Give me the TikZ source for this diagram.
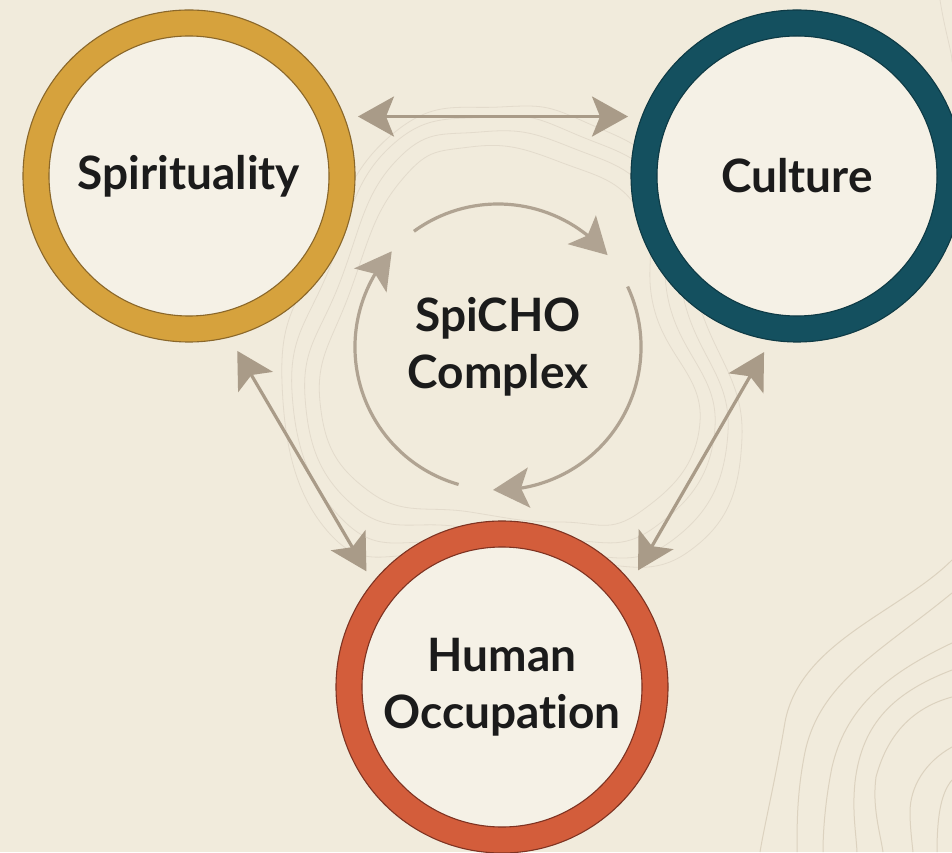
\documentclass[tikz,border=0pt]{standalone}
\usepackage{fontspec}
\setmainfont{Lato}[Ligatures={NoCommon}]
\usetikzlibrary{arrows.meta,bending,calc}
\definecolor{bg}{HTML}{F1EBDC}
\definecolor{innerc}{HTML}{F5F1E6}
\definecolor{gold}{HTML}{D6A23D}
\definecolor{golddk}{HTML}{8A672A}
\definecolor{tealc}{HTML}{14505F}
\definecolor{tealdk}{HTML}{0E3A45}
\definecolor{rust}{HTML}{D35D3B}
\definecolor{rustdk}{HTML}{7E3322}
\definecolor{taupe}{HTML}{A99B88}
\definecolor{contour}{HTML}{DCD2BF}
\definecolor{txt}{HTML}{1B1B1B}
\tikzset{
  ring/.style={circle, minimum size=306pt, inner sep=0pt, line width=26pt, fill=innerc,
     font=\bfseries\fontsize{46}{57}\selectfont, text=txt, align=center},
  ringline/.style={line width=1.1pt},
  bigtip/.tip={Stealth[length=36pt,width=40pt,inset=8pt]},
  link/.style={draw=taupe, line width=3.2pt, bigtip-bigtip},
  cyc/.style={draw=taupe!92, line width=3.2pt, -bigtip},
  topo/.style={draw=contour, line width=1pt},
  topofaint/.style={draw=contour!80, line width=0.8pt}
}
\begin{document}
\begin{tikzpicture}[x=1pt,y=1pt]
\fill[bg] (0,0) rectangle (952,852);
\useasboundingbox (0,0) rectangle (952,852);

% background contour lines (bottom right)
\draw[topo] (952,292) .. controls (900,240) and (800,210) .. (785,130) .. controls (775,70) and (765,30) .. (760,0);
\draw[topo] (952,259) .. controls (880,200) and (820,170) .. (805,100) .. controls (797,60) and (797,30) .. (797,0);
\draw[topo] (952,209) .. controls (880,175) and (845,140) .. (832,85) .. controls (825,50) and (823,20) .. (823,0);
\draw[topo] (952,182) .. controls (895,160) and (862,130) .. (855,70) .. controls (852,40) and (856,20) .. (857,0);
\draw[topo] (952,155) .. controls (915,145) and (888,120) .. (876,75) .. controls (872,45) and (880,20) .. (883,0);
\draw[topo] (952,105) .. controls (925,90) and (910,65) .. (910,40) .. controls (910,25) and (912,10) .. (913,0);
\draw[topo] (952,72) .. controls (942,60) and (937,40) .. (937,0);
\draw[topofaint] (940,852) .. controls (945,820) and (952,800) .. (952,790);

% faint contours around the centre
\draw[topofaint] plot[smooth cycle, tension=0.8] coordinates {(350,560) (400,670) (470,705) (560,690) (640,640) (655,540) (700,430) (640,340) (560,330) (470,340) (370,360) (320,450)};
\draw[topofaint] plot[smooth cycle, tension=0.8] coordinates {(340,570) (395,690) (480,720) (570,705) (655,650) (670,545) (715,425) (655,325) (560,312) (460,325) (355,345) (305,455)};
\draw[topofaint] plot[smooth cycle, tension=0.8] coordinates {(330,585) (390,705) (490,735) (575,718) (665,660) (685,548) (728,420) (670,310) (560,298) (450,308) (345,330) (292,460)};
\draw[topofaint] plot[smooth cycle, tension=0.8] coordinates {(320,600) (395,720) (500,745) (585,730) (672,668) (698,552) (742,415) (688,300) (565,290) (440,296) (330,318) (282,470)};

% main rings
\node[ring, draw=gold]  (sp) at (189,676) {Spirituality};
\node[ring, draw=tealc] (cu) at (797,676) {Culture};
\node[ring, draw=rust]  (ho) at (502,165) {Human\\Occupation};
\foreach \n/\c in {sp/golddk, cu/tealdk, ho/rustdk}{
  \draw[ringline, draw=\c] (\n.center) circle[radius=166pt];
  \draw[ringline, draw=\c] (\n.center) circle[radius=140pt];
}

% centre
\node[font=\bfseries\fontsize{46}{57}\selectfont, text=txt, align=center] (sc) at (498,505) {SpiCHO\\Complex};

% cycle arrows
\draw[cyc] (sc.center) ++(126:143) arc[start angle=126, end angle=40, radius=143];
\draw[cyc] (sc.center) ++(25:143) arc[start angle=25, end angle=-92, radius=143];
\draw[cyc] (sc.center) ++(-106:143) arc[start angle=-106, end angle=-222, radius=143];

% outer links
\draw[link, shorten <=14pt, shorten >=14pt] (sp.21) -- (cu.159);
\draw[link, shorten <=16pt, shorten >=13pt] (sp.-76) -- (ho.141);
\draw[link, shorten <=14pt, shorten >=14pt] (cu.-99) -- (ho.39);
\end{tikzpicture}
\end{document}
